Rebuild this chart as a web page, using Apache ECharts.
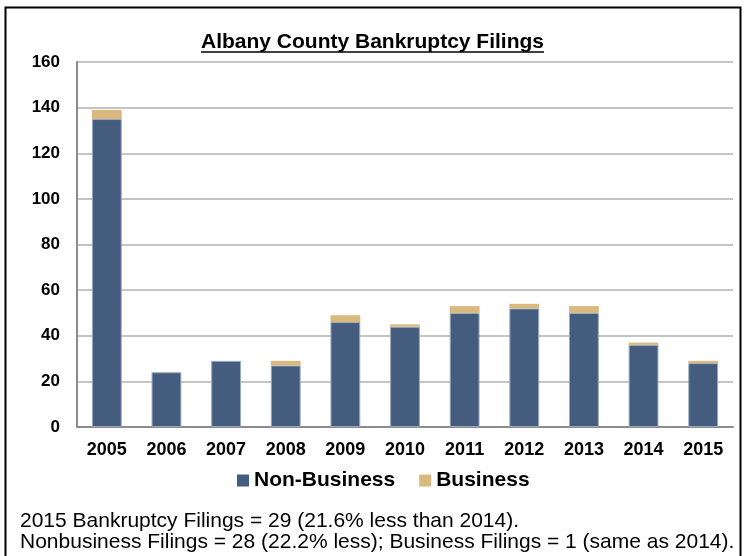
<!DOCTYPE html>
<html>
<head>
<meta charset="utf-8">
<script src="https://cdn.jsdelivr.net/npm/echarts@6/dist/echarts.min.js"></script>
<style>
  html, body { margin: 0; padding: 0; background: #fff; }
  #chart { width: 745px; height: 556px; }
</style>
</head>
<body>
<div id="chart"></div>
<script>
// data
var years = ['2005', '2006', '2007', '2008', '2009', '2010', '2011', '2012', '2013', '2014', '2015'];
var nonBusiness = [135, 24, 29, 27, 46, 44, 50, 52, 50, 36, 28];
var business = [4, 0, 0, 2, 3, 1, 3, 2, 3, 1, 1];
var yTicks = [0, 20, 40, 60, 80, 100, 120, 140, 160];

var titleText = 'Albany County Bankruptcy Filings';
var noteLines = [
  '2015 Bankruptcy Filings = 29 (21.6% less than 2014).',
  'Nonbusiness Filings = 28 (22.2% less); Business Filings = 1 (same as 2014).'
];

var fontName = '"Liberation Sans", Arial, sans-serif';

var myChart = echarts.init(document.getElementById('chart'));

// width of the title, for the underline
var ctx = document.createElement('canvas').getContext('2d');
ctx.font = 'bold 21px ' + fontName;
var tw = ctx.measureText(titleText).width;

var option = {
  animation: false,
  textStyle: { fontFamily: fontName },
  title: {
    text: titleText,
    left: 'center',
    top: 27,
    textStyle: { fontSize: 21, fontWeight: 'bold', color: '#000', fontFamily: fontName }
  },
  legend: {
    top: 465,
    left: 232,
    itemWidth: 12,
    itemHeight: 12,
    itemGap: 24,
    icon: 'rect',
    itemStyle: { borderWidth: 0 },
    textStyle: { fontSize: 21, fontWeight: 'bold', color: '#000', fontFamily: fontName },
    data: ['Non-Business', 'Business']
  },
  grid: { left: 77, right: 12, top: 62, bottom: 129 },
  xAxis: {
    type: 'category',
    data: years,
    axisLine: { lineStyle: { color: '#8c8c8c', width: 2 } },
    axisTick: { show: false },
    axisLabel: { fontSize: 18, fontWeight: 'bold', color: '#000', margin: 14 }
  },
  yAxis: {
    type: 'value',
    min: yTicks[0],
    max: yTicks[yTicks.length - 1],
    interval: 20,
    axisLine: { show: true, lineStyle: { color: '#8c8c8c', width: 2 } },
    axisTick: { show: false },
    axisLabel: { fontSize: 17, fontWeight: 'bold', color: '#000', margin: 17 },
    splitLine: { lineStyle: { color: '#c4c4c4', width: 2 } }
  },
  series: [
    {
      name: 'Non-Business',
      type: 'bar',
      stack: 'total',
      barWidth: '50%',
      data: nonBusiness,
      itemStyle: { color: '#445d7e', borderColor: '#9aaabd', borderWidth: 1 }
    },
    {
      name: 'Business',
      type: 'bar',
      stack: 'total',
      barWidth: '50%',
      data: business,
      itemStyle: { color: '#d9b97e' }
    }
  ],
  graphic: [
    {
      type: 'rect',
      left: 3, top: 5,
      shape: { width: 735, height: 570 },
      style: { fill: null, stroke: '#000', lineWidth: 2 },
      silent: true
    },
    {
      type: 'line',
      shape: { x1: (745 - tw) / 2, y1: 52, x2: (745 + tw) / 2, y2: 52 },
      style: { stroke: '#000', lineWidth: 1.5 },
      silent: true
    },
    {
      type: 'text',
      left: 20, top: 511,
      style: { text: noteLines[0], font: '21px ' + fontName, fill: '#000' }
    },
    {
      type: 'text',
      left: 20, top: 532,
      style: { text: noteLines[1], font: '21px ' + fontName, fill: '#000' }
    }
  ]
};

myChart.setOption(option);

window.addEventListener('resize', function () {
  myChart.resize();
});
</script>
</body>
</html>
